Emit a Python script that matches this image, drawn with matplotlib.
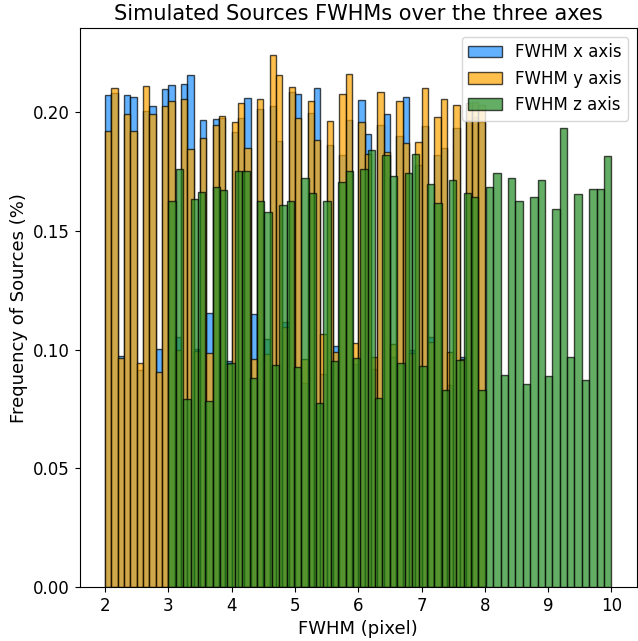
import numpy as np
import matplotlib
matplotlib.use("Agg")
import matplotlib.pyplot as plt

# Histogram densities (60 bins each)
xy_range = (2.0, 8.0)
z_range = (3.0, 10.0)
n_bins = 60

fwhm_x = [0.2072, 0.2081, 0.0975, 0.2072, 0.2067, 0.0914, 0.2006, 0.2029, 0.1005, 0.2100,
          0.2114, 0.1054, 0.2118, 0.2157, 0.1005, 0.1969, 0.1157, 0.1972, 0.1975, 0.0955,
          0.1916, 0.1977, 0.2059, 0.1152, 0.2015, 0.1044, 0.2027, 0.1880, 0.1117, 0.2088,
          0.2078, 0.0860, 0.1998, 0.2105, 0.0900, 0.1865, 0.1015, 0.1823, 0.1969, 0.0940,
          0.2053, 0.1910, 0.0920, 0.1949, 0.1992, 0.0970, 0.1900, 0.2066, 0.0998, 0.1780,
          0.1945, 0.1054, 0.1823, 0.1851, 0.0850, 0.1935, 0.0970, 0.1970, 0.1980, 0.1960]

fwhm_y = [0.1921, 0.2102, 0.0967, 0.1992, 0.1924, 0.0943, 0.2110, 0.1992, 0.0905, 0.2027,
          0.2048, 0.0998, 0.2058, 0.1846, 0.0995, 0.1893, 0.0988, 0.1949, 0.1987, 0.0941,
          0.1958, 0.2042, 0.1851, 0.0962, 0.2056, 0.0984, 0.2243, 0.2157, 0.1096, 0.2107,
          0.1977, 0.0962, 0.2049, 0.1885, 0.1068, 0.1965, 0.0991, 0.2077, 0.2163, 0.1029,
          0.1958, 0.1826, 0.0970, 0.2087, 0.1833, 0.1023, 0.2049, 0.1872, 0.0985, 0.1876,
          0.2102, 0.1035, 0.1983, 0.2055, 0.0991, 0.2032, 0.0960, 0.2040, 0.2045, 0.2030]

fwhm_z = [0.1625, 0.1764, 0.0792, 0.1636, 0.1667, 0.0783, 0.1684, 0.1674, 0.0943, 0.1752,
          0.1752, 0.0881, 0.1628, 0.1579, 0.0935, 0.1611, 0.1628, 0.0928, 0.1726, 0.1659,
          0.0775, 0.1625, 0.0952, 0.1707, 0.1752, 0.0966, 0.1764, 0.1840, 0.0797, 0.1823,
          0.1731, 0.0946, 0.1747, 0.1826, 0.0932, 0.1698, 0.1618, 0.0829, 0.1716, 0.0956,
          0.1661, 0.1645, 0.0832, 0.1688, 0.1745, 0.0893, 0.1725, 0.1625, 0.0858, 0.1642,
          0.1714, 0.0888, 0.1594, 0.1933, 0.0970, 0.1655, 0.0872, 0.1679, 0.1679, 0.1815]

labels = ["FWHM x axis", "FWHM y axis", "FWHM z axis"]
colors = ["dodgerblue", "orange", "forestgreen"]

fig = plt.figure(figsize=(6.38, 6.41), dpi=100)
ax = fig.add_axes([0.125, 0.084, 0.873, 0.872])

edges_xy = np.linspace(*xy_range, n_bins + 1)
edges_z = np.linspace(*z_range, n_bins + 1)

for vals, edges, lab, col in [(fwhm_x, edges_xy, labels[0], colors[0]),
                              (fwhm_y, edges_xy, labels[1], colors[1]),
                              (fwhm_z, edges_z, labels[2], colors[2])]:
    ax.hist(edges[:-1], bins=edges, weights=vals, color=col, alpha=0.7,
            edgecolor="black", linewidth=1.0, label=lab)

ax.set_title("Simulated Sources FWHMs over the three axes", fontsize=15)
ax.set_xlabel("FWHM (pixel)", fontsize=13)
ax.set_ylabel("Frequency of Sources (%)", fontsize=13)
ax.tick_params(labelsize=12)
ax.legend(loc="upper right", fontsize=12)

fig.savefig("out.png", dpi=100)
